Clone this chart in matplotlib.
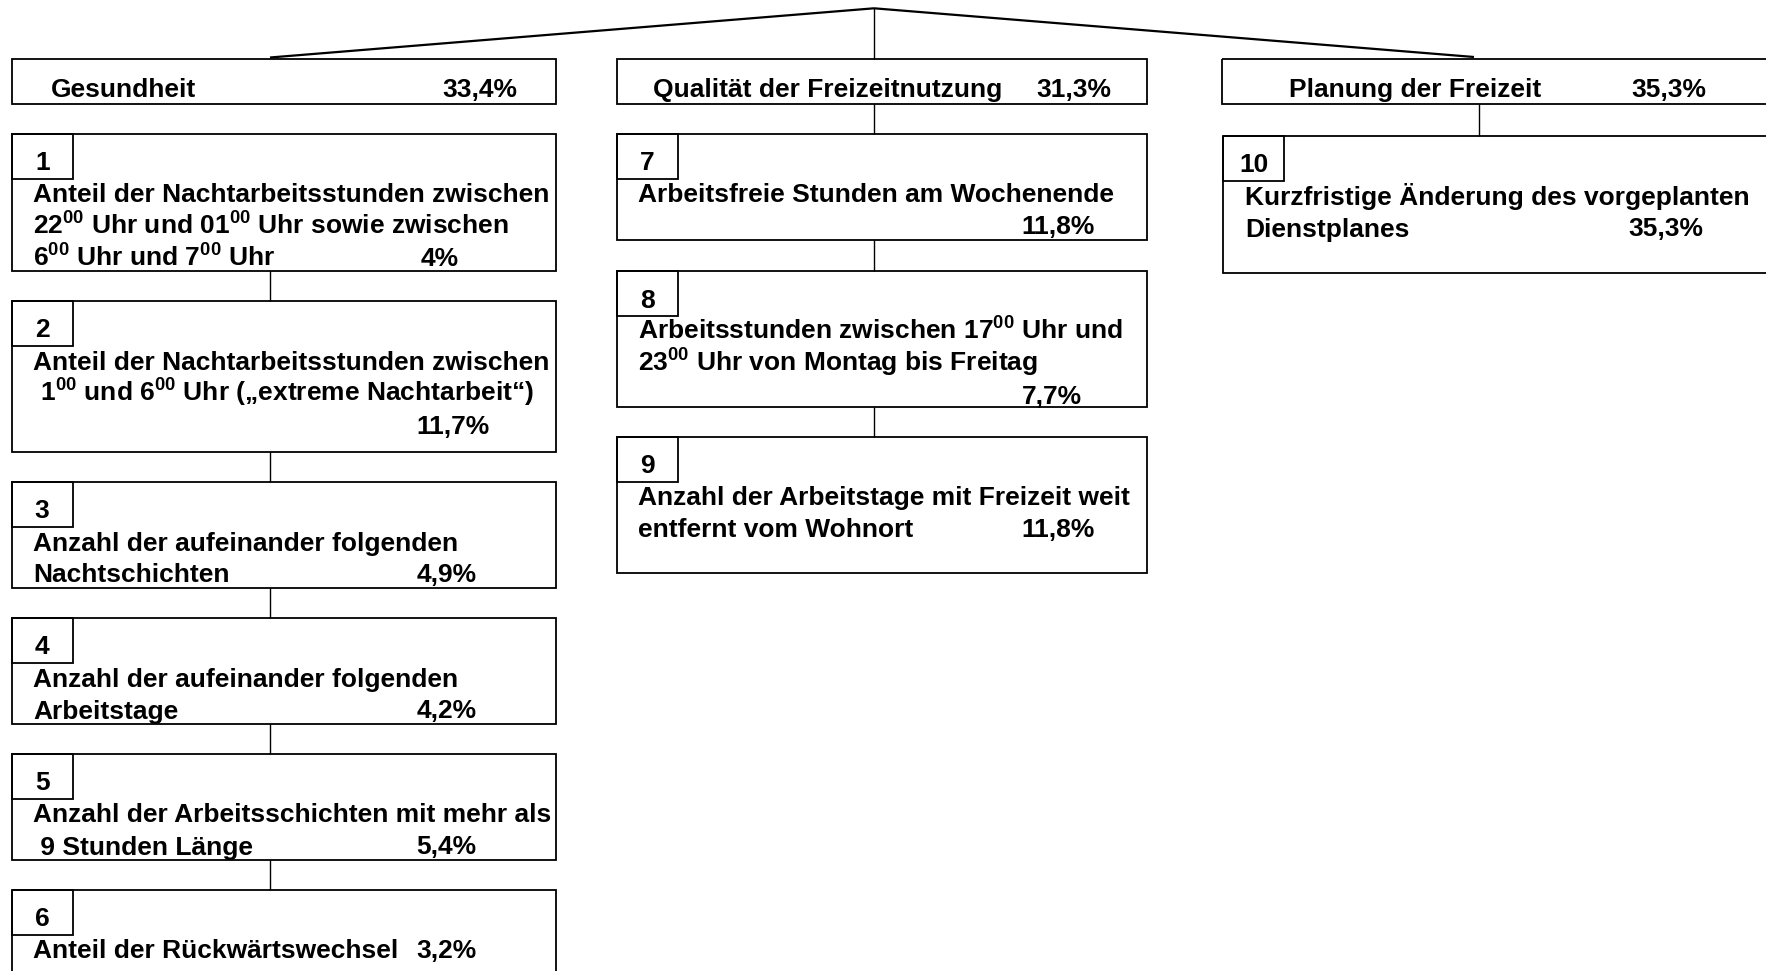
import matplotlib
matplotlib.use("Agg")
import matplotlib.pyplot as plt
from matplotlib.patches import Rectangle

plt.rcParams['font.family'] = ['Liberation Sans', 'DejaVu Sans']
plt.rcParams['mathtext.fontset'] = 'custom'
plt.rcParams['mathtext.rm'] = 'Liberation Sans:bold'
plt.rcParams['mathtext.bf'] = 'Liberation Sans:bold'
plt.rcParams['mathtext.it'] = 'Liberation Sans:bold'
plt.rcParams['mathtext.default'] = 'regular'

# ---------------- data ----------------
categories = ["Gesundheit", "Qualität der Freizeitnutzung", "Planung der Freizeit"]
category_shares = [33.4, 31.3, 35.3]

factor_numbers = [1, 2, 3, 4, 5, 6, 7, 8, 9, 10]
factor_labels = [
    ["Anteil der Nachtarbeitsstunden zwischen",
     "22$^{00}$ Uhr und 01$^{00}$ Uhr sowie zwischen",
     "6$^{00}$ Uhr und 7$^{00}$ Uhr"],
    ["Anteil der Nachtarbeitsstunden zwischen",
     " 1$^{00}$ und 6$^{00}$ Uhr (\u201eextreme Nachtarbeit\u201c)"],
    ["Anzahl der aufeinander folgenden", "Nachtschichten"],
    ["Anzahl der aufeinander folgenden", "Arbeitstage"],
    ["Anzahl der Arbeitsschichten mit mehr als", " 9 Stunden Länge"],
    ["Anteil der Rückwärtswechsel"],
    ["Arbeitsfreie Stunden am Wochenende"],
    ["Arbeitsstunden zwischen 17$^{00}$ Uhr und",
     "23$^{00}$ Uhr von Montag bis Freitag"],
    ["Anzahl der Arbeitstage mit Freizeit weit", "entfernt vom Wohnort"],
    ["Kurzfristige Änderung des vorgeplanten", "Dienstplanes"],
]
factor_shares = [4, 11.7, 4.9, 4.2, 5.4, 3.2, 11.8, 7.7, 11.8, 35.3]
factor_category = [0, 0, 0, 0, 0, 0, 1, 1, 1, 2]

# ---------------- layout (pixels) ----------------
W, H = 1766, 971
head_left = [11.7, 616.7, 1221.7]
col_right = [556, 1146.7, 1800]
box_left = [11.7, 616.7, 1223.3]
col_mid = [269.5, 874, 1479]
header_top, header_bottom = 59, 104
apex = (874, 8.3)
line_ends = [(270, 57.5), (874, 59), (1474, 57)]
header_text_x = [51, 653.3, 1289.3]
header_pct_x = [442.7, 1036.7, 1631]
header_base = 96.7
text_x = [33.3, 638, 1245]
pct_x = [420.7, 416.7, 416.7, 416.7, 416.7, 416.7, 1021.7, 1021.7, 1021.7, 1628.7]
box_top = [134, 301, 482, 618, 754, 890, 134, 271.5, 436.7, 136]
box_bottom = [271, 452, 588, 724, 860, 1010, 240, 406.7, 572.7, 272.7]
pct_line = [2, 2, 1, 1, 1, 0, 1, 2, 1, 1]
num_w, num_h = 61, 45
fs = 19.0
lw_box = 1.3
lw_conn = 1.0
lw_diag = 1.6


def fmt(v):
    return f"{v:g}".replace('.', ',') + '%'


fig = plt.figure(figsize=(W / 100, H / 100), dpi=100)
ax = fig.add_axes([0, 0, 1, 1])
ax.set_xlim(0, W)
ax.set_ylim(H, 0)
ax.axis('off')

txt = dict(fontsize=fs, fontweight='bold', color='black', va='baseline', ha='left')

# top connector lines
for (ex, ey) in line_ends:
    ax.plot([apex[0], ex], [apex[1], ey], color='black',
            lw=lw_diag if ex != apex[0] else lw_conn, solid_capstyle='butt')

# header boxes
for c, (name, share) in enumerate(zip(categories, category_shares)):
    ax.add_patch(Rectangle((head_left[c], header_top), col_right[c] - head_left[c],
                           header_bottom - header_top, fill=False, ec='black', lw=lw_box))
    ax.text(header_text_x[c], header_base, name, **txt)
    ax.text(header_pct_x[c], header_base, fmt(share), **txt)

# factor boxes
prev_bottom = {0: None, 1: header_bottom, 2: header_bottom}
for i, (num, lines, share, cat) in enumerate(zip(factor_numbers, factor_labels,
                                                  factor_shares, factor_category)):
    top, bot = box_top[i], box_bottom[i]
    left, right = box_left[cat], col_right[cat]
    if prev_bottom[cat] is not None:
        ax.plot([col_mid[cat], col_mid[cat]], [prev_bottom[cat], top], color='black',
                lw=lw_conn, solid_capstyle='butt')
    prev_bottom[cat] = bot
    ax.add_patch(Rectangle((left, top), right - left, bot - top, fill=False,
                           ec='black', lw=lw_box))
    ax.add_patch(Rectangle((left, top), num_w, num_h, fill=False, ec='black', lw=lw_box))
    ax.text(left + num_w / 2, top + 36, str(num), fontsize=fs, fontweight='bold',
            ha='center', va='baseline')
    for k, line in enumerate(lines):
        ax.text(text_x[cat], top + 68.5 + 32 * k, line, **txt)
    ax.text(pct_x[i], top + 68.5 + 32 * pct_line[i], fmt(share), **txt)

fig.savefig('out.png', dpi=100)
